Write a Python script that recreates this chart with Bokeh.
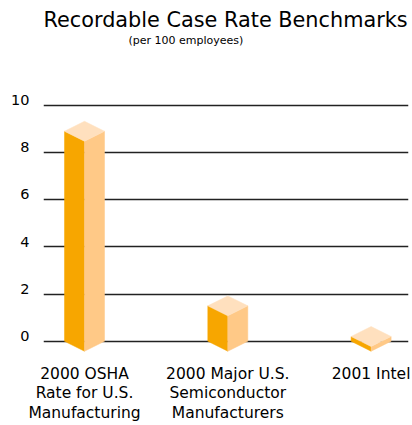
from bokeh.plotting import figure
from bokeh.models import Range1d, FixedTicker, Title, LinearAxis
from bokeh.embed import file_html
from bokeh.resources import INLINE

# ---- data ----
categories = [
    "2000 OSHA\nRate for U.S.\nManufacturing",
    "2000 Major U.S.\nSemiconductor\nManufacturers",
    "2001 Intel",
]
rates = [8.9, 1.5, 0.2]
y_ticks = [0, 2, 4, 6, 8, 10]

# ---- style ----
FONT = "DejaVu Sans"
LEFT_FACE = "#F7A600"
RIGHT_FACE = "#FFC987"
TOP_FACE = "#FFE0BE"
HALF_W = 20 / 143.3      # half width of a prism in x units
DEPTH = 10 / 23.67       # isometric depth in y units
LABEL_LIFT = 0.22        # tick labels sit slightly above their grid lines

Y0, Y1 = -0.4774, 12.493
p = figure(width=412, height=425, output_backend="svg", toolbar_location=None,
           title=None,
           x_range=Range1d(-0.2861, 2.261), y_range=Range1d(Y0, Y1),
           min_border_left=43, min_border_right=4, min_border_top=46,
           min_border_bottom=72)
p.outline_line_color = None
p.background_fill_color = "white"
p.border_fill_color = "white"

# prisms
lx, ly, rx, ry, tx, ty = [], [], [], [], [], []
for i, v in enumerate(rates):
    lx.append([i - HALF_W, i, i, i - HALF_W])
    ly.append([0, -DEPTH, v - DEPTH, v])
    rx.append([i, i + HALF_W, i + HALF_W, i])
    ry.append([-DEPTH, 0, v, v - DEPTH])
    tx.append([i - HALF_W, i, i + HALF_W, i])
    ty.append([v, v - DEPTH, v, v + DEPTH])

p.patches(lx, ly, fill_color=LEFT_FACE, line_color=LEFT_FACE, line_width=0.5)
p.patches(rx, ry, fill_color=RIGHT_FACE, line_color=RIGHT_FACE, line_width=0.5)
p.patches(tx, ty, fill_color=TOP_FACE, line_color=TOP_FACE, line_width=0.5)

# grid
p.xgrid.visible = False
p.ygrid.ticker = FixedTicker(ticks=y_ticks)
p.ygrid.grid_line_color = "#222222"
p.ygrid.grid_line_width = 1.3

# y axis: labels drawn on a range lifted a little above the grid lines
p.yaxis.visible = False
p.extra_y_ranges = {"labels": Range1d(Y0 - LABEL_LIFT, Y1 - LABEL_LIFT)}
yax = LinearAxis(y_range_name="labels", ticker=FixedTicker(ticks=y_ticks))
yax.axis_label = None
yax.axis_label_standoff = 0
yax.axis_line_color = None
yax.major_tick_line_color = None
yax.minor_tick_line_color = None
yax.major_tick_out = 0
yax.major_tick_in = 0
yax.major_label_standoff = 14
yax.major_label_text_font = FONT
yax.major_label_text_font_size = "14.5px"
yax.major_label_text_color = "black"
p.add_layout(yax, "left")

# x axis
xax = p.xaxis[0]
xax.ticker = FixedTicker(ticks=list(range(len(categories))))
xax.major_label_overrides = {i: c for i, c in enumerate(categories)}
xax.axis_label = None
xax.axis_label_standoff = 0
xax.axis_line_color = None
xax.major_tick_line_color = None
xax.minor_tick_line_color = None
xax.major_tick_out = 0
xax.major_tick_in = 0
xax.major_label_standoff = 12
xax.major_label_text_font = FONT
xax.major_label_text_font_size = "15.5px"
xax.major_label_text_color = "black"
xax.major_label_text_line_height = 1.1

# titles
p.add_layout(Title(text="(per 100 employees)", align="left", offset=85,
                   standoff=0, text_font=FONT, text_font_size="11px",
                   text_font_style="normal", text_color="black"), "above")
p.add_layout(Title(text="Recordable Case Rate Benchmarks", align="left",
                   offset=0, standoff=0, text_font=FONT,
                   text_font_size="20.8px", text_font_style="normal",
                   text_color="black"), "above")

open("out.html", "w").write(file_html(p, INLINE))
